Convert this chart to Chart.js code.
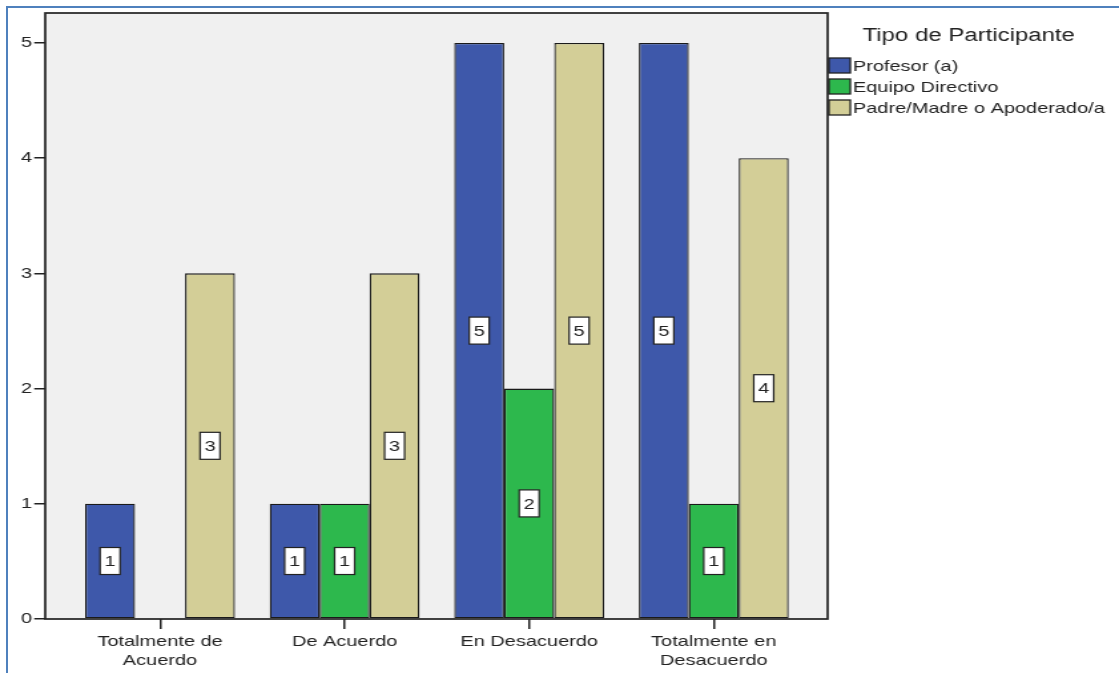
<!DOCTYPE html>
<html lang="es">
<head>
  <meta charset="UTF-8">
  <title>Tipo de Participante</title>
  <script src="https://cdn.jsdelivr.net/npm/chart.js"></script>
  <style>
    body {
      margin: 0;
      background: #fff;
      overflow: hidden;
    }
    #frame {
      position: absolute;
      left: 6px;
      top: 6px;
      right: 0;
      bottom: 0;
      border-top: 2px solid #4f81bd;
      border-left: 2px solid #4f81bd;
      pointer-events: none;
    }
    #chart {
      position: absolute;
      left: 0;
      top: 0;
      transform-origin: 0 0;
      transform: scaleX(1.3306);
    }
  </style>
</head>
<body>
  <canvas id="chart" width="841" height="673"></canvas>
  <div id="frame"></div>

  <script>
    const categories = [['Totalmente de', 'Acuerdo'], 'De Acuerdo', 'En Desacuerdo', ['Totalmente en', 'Desacuerdo']];
    const seriesNames = ['Profesor (a)', 'Equipo Directivo', 'Padre/Madre o Apoderado/a'];
    const profesor = [1, 1, 5, 5];
    const equipo = [null, 1, 2, 1];
    const padres = [3, 3, 5, 4];
    const yTicks = [0, 1, 2, 3, 4, 5];
    const colors = ['#3e58aa', '#2db84d', '#d3ce97'];

    const FONT = '"Liberation Sans", Arial, sans-serif';
    Chart.defaults.font.family = FONT;
    Chart.defaults.font.size = 15;
    Chart.defaults.color = '#222';

    function toPoints(values) {
      return values.map((v, i) => ({ x: i, y: v })).filter(p => p.y !== null);
    }

    const datasets = [profesor, equipo, padres].map((values, k) => ({
      label: seriesNames[k],
      data: toPoints(values),
      backgroundColor: colors[k],
      borderColor: '#1a1a1a',
      borderWidth: 1.3,
      borderSkipped: false,
      categoryPercentage: 0.812,
      barPercentage: 1
    }));

    // grey plot background + dark frame
    const plotFrame = {
      id: 'plotFrame',
      beforeDraw(chart) {
        const { ctx, chartArea: a } = chart;
        ctx.save();
        ctx.fillStyle = '#f0f0f0';
        ctx.fillRect(a.left, a.top, a.right - a.left, a.bottom - a.top);
        ctx.restore();
      },
      afterDatasetsDraw(chart) {
        const { ctx, chartArea: a } = chart;
        ctx.save();
        ctx.strokeStyle = '#222';
        ctx.lineWidth = 1.7;
        ctx.strokeRect(a.left, a.top, a.right - a.left, a.bottom - a.top);
        ctx.restore();
      }
    };

    // white value boxes in the middle of each bar
    const valueBoxes = {
      id: 'valueBoxes',
      afterDatasetsDraw(chart) {
        const ctx = chart.ctx;
        ctx.save();
        ctx.font = '15px ' + FONT;
        ctx.textAlign = 'center';
        ctx.textBaseline = 'middle';
        chart.data.datasets.forEach((ds, di) => {
          chart.getDatasetMeta(di).data.forEach((bar, i) => {
            const v = ds.data[i].y;
            const cx = bar.x;
            const cy = (bar.y + bar.base) / 2;
            ctx.fillStyle = '#fff';
            ctx.fillRect(cx - 7.5, cy - 13.5, 15, 27);
            ctx.strokeStyle = '#222';
            ctx.lineWidth = 1.2;
            ctx.strokeRect(cx - 7.5, cy - 13.5, 15, 27);
            ctx.fillStyle = '#222';
            ctx.fillText(String(v), cx, cy + 1);
          });
        });
        ctx.restore();
      }
    };

    // legend on the right, SPSS style
    const sideLegend = {
      id: 'sideLegend',
      afterDraw(chart) {
        const ctx = chart.ctx;
        const x0 = chart.chartArea.right + 1;
        ctx.save();
        ctx.fillStyle = '#222';
        ctx.font = '18px ' + FONT;
        ctx.textAlign = 'center';
        ctx.textBaseline = 'alphabetic';
        ctx.fillText('Tipo de Participante', 728, 41);
        ctx.font = '15px ' + FONT;
        ctx.textAlign = 'left';
        ctx.textBaseline = 'middle';
        chart.data.datasets.forEach((ds, k) => {
          const y = 58 + k * 21;
          ctx.fillStyle = ds.backgroundColor;
          ctx.fillRect(x0, y, 16, 15);
          ctx.strokeStyle = '#222';
          ctx.lineWidth = 1.3;
          ctx.strokeRect(x0, y, 16, 15);
          ctx.fillStyle = '#222';
          ctx.fillText(ds.label, 641, y + 8.5);
        });
        ctx.restore();
      }
    };

    new Chart(document.getElementById('chart'), {
      type: 'bar',
      data: { datasets },
      options: {
        responsive: false,
        animation: false,
        layout: { padding: { left: 0, right: 219, top: 13, bottom: 0 } },
        plugins: {
          legend: { display: false },
          tooltip: { enabled: false }
        },
        scales: {
          x: {
            type: 'linear',
            min: -0.622,
            max: 3.617,
            offset: false,
            afterBuildTicks: s => { s.ticks = categories.map((c, i) => ({ value: i })); },
            afterFit: s => { s.height = 54; },
            ticks: {
              callback: v => categories[v],
              padding: 3,
              maxRotation: 0,
              autoSkip: false,
              font: { size: 15, lineHeight: 1.27 }
            },
            grid: { offset: false, drawOnChartArea: false, drawTicks: true, tickLength: 10, color: '#222', lineWidth: 1.5 },
            border: { display: false }
          },
          y: {
            min: 0,
            max: 5.26,
            afterBuildTicks: s => { s.ticks = yTicks.map(v => ({ value: v })); },
            afterFit: s => { s.width = 34; },
            ticks: { padding: 1.5, font: { size: 15 } },
            grid: { drawOnChartArea: false, drawTicks: true, tickLength: 8.3, color: '#222', lineWidth: 1.5 },
            border: { display: false }
          }
        }
      },
      plugins: [plotFrame, valueBoxes, sideLegend]
    });
  </script>
</body>
</html>
